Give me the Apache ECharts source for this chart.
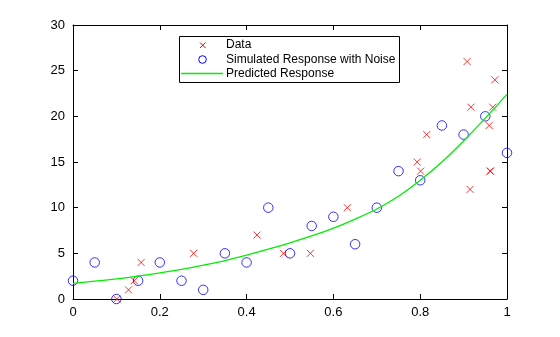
<!DOCTYPE html>
<html>
<head>
<meta charset="utf-8">
<script src="https://cdn.jsdelivr.net/npm/echarts@6/dist/echarts.min.js"></script>
<style>
  html, body { margin: 0; padding: 0; background: #fff; }
  #chart { width: 560px; height: 337px; }
</style>
</head>
<body>
<div id="chart"></div>
<script>
// Measured data points (x, y)
const dataX = [0.101, 0.128, 0.141, 0.157, 0.278, 0.424, 0.485, 0.547, 0.632, 0.793, 0.801, 0.815, 0.908, 0.917, 0.915, 0.972, 0.967, 0.959, 0.961, 0.962];
const dataY = [0, 1, 2, 4, 5, 7, 5, 5, 10, 15, 14, 18, 26, 21, 12, 24, 21, 19, 14, 14];

// Simulated response with noise, sampled every 0.05
const simX = [0, 0.05, 0.1, 0.15, 0.2, 0.25, 0.3, 0.35, 0.4, 0.45, 0.5, 0.55, 0.6, 0.65, 0.7, 0.75, 0.8, 0.85, 0.9, 0.95, 1];
const simY = [2, 4, 0, 2, 4, 2, 1, 5, 4, 10, 5, 8, 9, 6, 10, 14, 13, 19, 18, 20, 16];

// Predicted response curve
const predX = [0, 0.05, 0.1, 0.15, 0.2, 0.25, 0.3, 0.35, 0.4, 0.45, 0.5, 0.55, 0.6, 0.65, 0.7, 0.75, 0.8, 0.85, 0.9, 0.95, 1];
const predY = [1.7, 1.95, 2.2, 2.5, 2.85, 3.25, 3.7, 4.2, 4.8, 5.45, 6.15, 6.9, 7.75, 8.75, 9.85, 11.25, 13.0, 15.0, 17.3, 19.8, 22.4];

// Axis ticks
const xTicks = [0, 0.2, 0.4, 0.6, 0.8, 1];
const yTicks = [0, 5, 10, 15, 20, 25, 30];

const legendNames = ['Data', 'Simulated Response with Noise', 'Predicted Response'];

const FONT = '"Liberation Sans", Arial, Helvetica, sans-serif';

const zip = (xs, ys) => xs.map((x, i) => [x, ys[i]]);

const chart = echarts.init(document.getElementById('chart'), null, { renderer: 'canvas' });

const axisCommon = {
  type: 'value',
  axisLine: { show: true, onZero: false, lineStyle: { color: '#000', width: 1 } },
  axisTick: { show: true, inside: true, length: 5, lineStyle: { color: '#000' } },
  splitLine: { show: false }
};

const xMin = xTicks[0], xMax = xTicks[xTicks.length - 1], xStep = xTicks[1] - xTicks[0];
const yMin = yTicks[0], yMax = yTicks[yTicks.length - 1], yStep = yTicks[1] - yTicks[0];

const crossPath = 'path://M0,0L10,10M10,0L0,10';

chart.setOption({
  animation: false,
  backgroundColor: '#fff',
  grid: { left: 73, right: 53, top: 25, bottom: 38, containLabel: false },
  xAxis: [
    Object.assign({}, axisCommon, {
      position: 'bottom', min: xMin, max: xMax, interval: xStep,
      axisLabel: { color: '#000', fontFamily: FONT, fontSize: 13, margin: 7 }
    }),
    Object.assign({}, axisCommon, {
      position: 'top', min: xMin, max: xMax, interval: xStep,
      axisLabel: { show: false }
    })
  ],
  yAxis: [
    Object.assign({}, axisCommon, {
      position: 'left', min: yMin, max: yMax, interval: yStep,
      axisLabel: { color: '#000', fontFamily: FONT, fontSize: 13, margin: 8 }
    }),
    Object.assign({}, axisCommon, {
      position: 'right', min: yMin, max: yMax, interval: yStep,
      axisLabel: { show: false }
    })
  ],
  series: [
    {
      name: legendNames[0],
      type: 'scatter',
      data: zip(dataX, dataY),
      symbol: crossPath,
      symbolSize: 7,
      itemStyle: { color: 'transparent', borderColor: '#ff0000', borderWidth: 1 },
      silent: true
    },
    {
      name: legendNames[1],
      type: 'scatter',
      data: zip(simX, simY),
      symbol: 'circle',
      symbolSize: 9.5,
      itemStyle: { color: 'transparent', borderColor: '#0000ff', borderWidth: 1 },
      silent: true
    },
    {
      name: legendNames[2],
      type: 'line',
      data: zip(predX, predY),
      showSymbol: false,
      smooth: 0.3,
      lineStyle: { color: '#00ee00', width: 1.3 },
      silent: true
    }
  ],
  graphic: [
    // legend box
    { type: 'rect', shape: { x: 179.5, y: 36.5, width: 220, height: 46 },
      style: { fill: '#fff', stroke: '#000', lineWidth: 1 }, z: 10 },
    // Data marker (cross)
    { type: 'line', shape: { x1: 200, y1: 42.5, x2: 205.5, y2: 48 },
      style: { stroke: '#ff0000', lineWidth: 1 }, z: 11 },
    { type: 'line', shape: { x1: 205.5, y1: 42.5, x2: 200, y2: 48 },
      style: { stroke: '#ff0000', lineWidth: 1 }, z: 11 },
    // Simulated marker
    { type: 'circle', shape: { cx: 202.5, cy: 59.5, r: 3.8 },
      style: { fill: 'transparent', stroke: '#0000ff', lineWidth: 1 }, z: 11 },
    // Predicted line
    { type: 'line', shape: { x1: 181, y1: 73.5, x2: 223, y2: 73.5 },
      style: { stroke: '#00ee00', lineWidth: 1.3 }, z: 11 },
    { type: 'text', x: 226, y: 45, z: 11,
      style: { text: legendNames[0], font: '12px ' + FONT, fill: '#000', verticalAlign: 'middle' } },
    { type: 'text', x: 226, y: 59.5, z: 11,
      style: { text: legendNames[1], font: '12px ' + FONT, fill: '#000', verticalAlign: 'middle' } },
    { type: 'text', x: 226, y: 74, z: 11,
      style: { text: legendNames[2], font: '12px ' + FONT, fill: '#000', verticalAlign: 'middle' } }
  ]
});
</script>
</body>
</html>
